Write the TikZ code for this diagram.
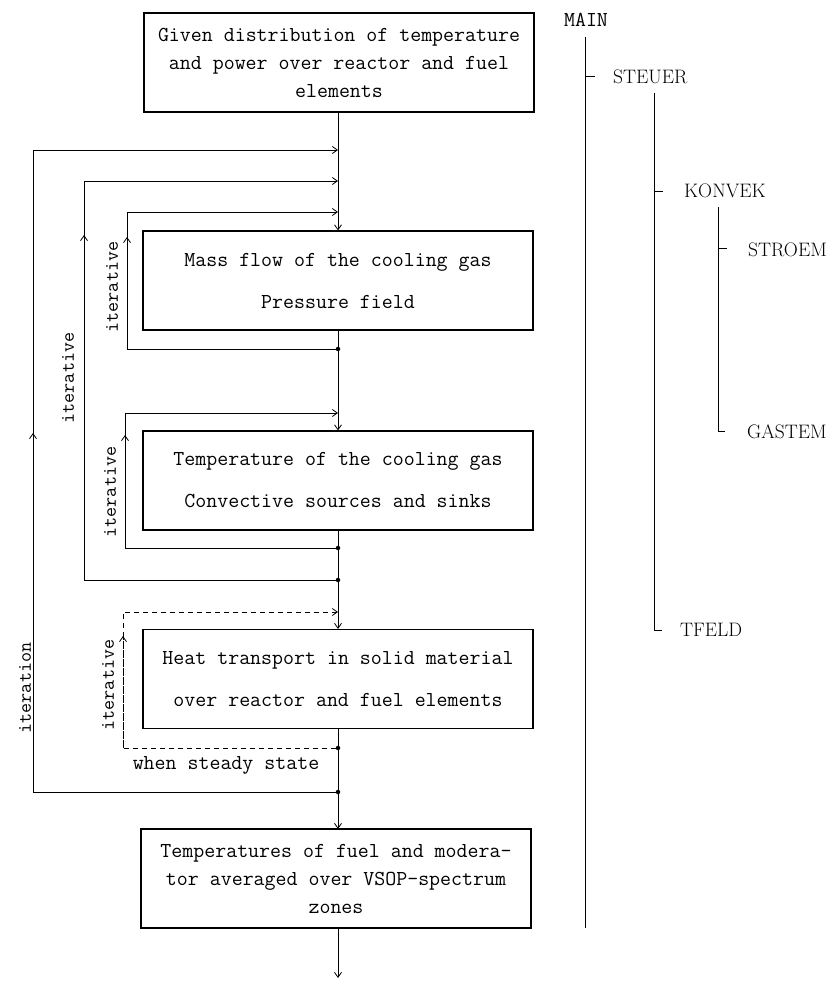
\documentclass[tikz,border=0pt]{standalone}
\usepackage{fontspec}
\usetikzlibrary{arrows.meta}
\newcommand\boxfont{\fontsize{21.3pt}{28pt}\selectfont\ttfamily}
\newcommand\labfont{\fontsize{19.5pt}{24pt}\selectfont\ttfamily}
\newcommand\treefont{\fontsize{19.5pt}{22pt}\selectfont\rmfamily}
\begin{document}
\begin{tikzpicture}[x=1pt,y=-1pt,
  box/.style={draw, line width=1.1pt, minimum width=390pt, minimum height=99pt,
              align=center, inner sep=0pt, font=\boxfont},
  wire/.style={line width=0.8pt},
  flow/.style={line width=0.8pt, -{Straight Barb[length=5pt,width=7pt,line width=0.8pt]}},
  dot/.style={circle, fill, inner sep=0pt, minimum size=4.5pt},
  lab/.style={font=\labfont, inner sep=0pt},
  treelab/.style={font=\treefont, inner sep=0pt, anchor=west},
  tree/.style={line width=0.8pt}]
\useasboundingbox (0,0) rectangle (826,981);

% main boxes
\node[box] (b1) at (339,62.5) {Given distribution of temperature\\and power over reactor and fuel\\elements};
\node[box] (b2) at (338,280.5) {Mass flow of the cooling gas\\[14pt]Pressure field};
\node[box] (b3) at (338,480.5) {Temperature of the cooling gas\\[14pt]Convective sources and sinks};
\node[box] (b4) at (338,679) {Heat transport in solid material\\[14pt]over reactor and fuel elements};
\node[box] (b5) at (336,878.5) {Temperatures of fuel and modera-\\tor averaged over VSOP-spectrum\\zones};

% junctions on the main line
\coordinate (jA) at (338,150);
\coordinate (jB) at (338,181);
\coordinate (jC) at (338,212);
\coordinate (jD) at (338,413);
\coordinate (jE) at (338,612);
\node[dot] (dC) at (338,349) {};
\node[dot] (dD) at (338,548) {};
\node[dot] (dB) at (338,580) {};
\node[dot] (dE) at (338,748) {};
\node[dot] (dA) at (338,792) {};
\coordinate (b1s) at (338,112);
\coordinate (b5n) at (338,829);
\coordinate (b5s) at (338,928);
\coordinate (bend) at (338,978);

% main flow
\draw[wire] (b1s) -- (jA);
\draw[flow] (jA) -- (b2.north);
\draw[flow] (b2.south) -- (b3.north);
\draw[flow] (b3.south) -- (b4.north);
\draw[wire] (b4.south) -- (dA);
\draw[flow] (dA) -- (b5n);
\draw[flow] (b5s) -- (bend);

% loop A (outermost)
\coordinate (aBot) at (33,792);
\coordinate (aMid) at (33,433);
\coordinate (aTop) at (33,150);
\draw[flow] (dA) -- (aBot) -- (aTop) -- (jA);
\draw[flow] (aBot) -- (aMid);
\node[lab, rotate=90] (lA) at (25,688) {iteration};

% loop B
\coordinate (bBot) at (84,580);
\coordinate (bMid) at (84,235);
\coordinate (bTop) at (84,181);
\draw[flow] (dB) -- (bBot) -- (bTop) -- (jB);
\draw[flow] (bBot) -- (bMid);
\node[lab, rotate=90] (lB) at (68,378) {iterative};

% loop C
\coordinate (cBot) at (127,349);
\coordinate (cMid) at (127,237);
\coordinate (cTop) at (127,212);
\draw[flow] (dC) -- (cBot) -- (cTop) -- (jC);
\draw[flow] (cBot) -- (cMid);
\node[lab, rotate=90] (lC) at (112,287) {iterative};

% loop D
\coordinate (dBot) at (125,548);
\coordinate (dMid) at (125,435);
\coordinate (dTop) at (125,413);
\draw[flow] (dD) -- (dBot) -- (dTop) -- (jD);
\draw[flow] (dBot) -- (dMid);
\node[lab, rotate=90] (lD) at (110,492) {iterative};

% loop E (dashed)
\coordinate (eBot) at (123,748);
\coordinate (eMid) at (123,636);
\coordinate (eTop) at (123,612);
\draw[flow, dash pattern=on 5pt off 4pt] (dE) -- (eBot) -- (eTop) -- (jE);
\draw[flow, dash pattern=on 5pt off 4pt] (eBot) -- (eMid);
\node[lab, rotate=90] (lE) at (108,685) {iterative};
\node[font=\boxfont, inner sep=0pt] (steady) at (226,765) {when steady state};

% call tree
\node[font=\boxfont, inner sep=0pt] (main) at (586,20) {MAIN};
\coordinate (mTop) at (585,37);
\coordinate (mEnd) at (585,928);
\draw[tree] (mTop) -- (mEnd);

\node[treelab] (steuer) at (613,77) {STEUER};
\coordinate (sTick) at (585,76);
\draw[tree] (sTick) -- ++(10,0);
\coordinate (sTop) at (654,93);
\coordinate (sBot) at (654,630);
\node[treelab] (tfeld) at (680,630) {TFELD};
\draw[tree] (sTop) -- (sBot) -- ++(8,0);

\node[treelab] (konvek) at (684,191) {KONVEK};
\coordinate (kTick) at (654,191);
\draw[tree] (kTick) -- ++(9,0);
\coordinate (kTop) at (718,207);
\coordinate (kBot) at (718,431);
\node[treelab] (gastem) at (747,432) {GASTEM};
\draw[tree] (kTop) -- (kBot) -- ++(7,0);

\node[treelab] (stroem) at (748,250) {STROEM};
\coordinate (stTick) at (718,248);
\draw[tree] (stTick) -- ++(9,0);
\end{tikzpicture}
\end{document}
